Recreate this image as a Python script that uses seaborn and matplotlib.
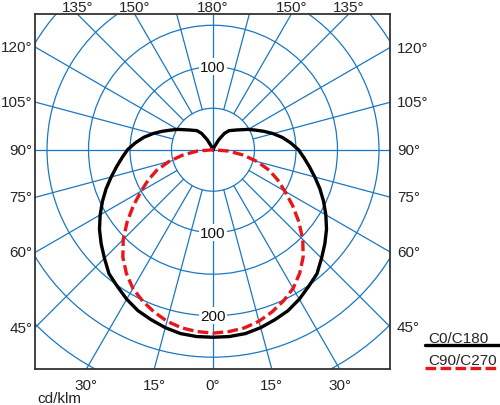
import numpy as np
import pandas as pd
import matplotlib.pyplot as plt
from matplotlib.patches import Circle
from matplotlib.lines import Line2D
import seaborn as sns

sns.set_theme(style="white")
plt.rcParams['font.family'] = ['Liberation Sans', 'DejaVu Sans']

# luminous intensity (cd/klm) against gamma angle from nadir
gamma_c0 = [0, 5, 10, 15, 20, 25, 30, 35, 40, 45, 50, 55, 60, 65, 70, 75, 80, 85, 90,
            95, 100, 105, 110, 115, 120, 125, 130, 135, 140, 145, 150, 155, 160, 170, 180]
cd_c0 = [226, 226, 225, 222, 218, 214, 208, 201, 195, 185, 176, 167, 157, 147, 137, 127, 118, 110, 103,
         94, 85, 75, 65, 56, 49, 42, 37, 33, 30, 24, 14, 4, 0, 0, 0]

gamma_c90 = [0, 5, 10, 15, 20, 25, 30, 35, 40, 45, 50, 55, 60, 65, 70, 75, 80, 85, 90]
cd_c90 = [221, 220, 218, 214, 208, 201, 193, 182, 169, 153, 135, 117, 100, 86, 72, 55, 37, 19, 0]

ring_values = [50, 100, 150, 200, 250, 300]
spoke_angles = list(range(0, 360, 15))
ring_label_values = [100, -100, -200]
ring_label_texts = ['100', '100', '200']
side_angles = [120, 105, 90, 75, 60, 45]
top_angles = [135, 150, 180]
bottom_angles = [30, 15, 0]
series_names = ['C0/C180', 'C90/C270']

grid_blue = '#1a78c2'
red = '#e8151b'
xmin, xmax = -214.5, 213.3
ymin, ymax = -264.2, 163.5
W, H = 500, 406


def to_xy(gammas, values):
    g = np.radians(gammas)
    r = np.asarray(values, dtype=float)
    left_x = -r * np.sin(g)
    left_y = -r * np.cos(g)
    # mirror the half curve onto the other side
    x = np.concatenate([left_x[::-1], -left_x[1:]])
    y = np.concatenate([left_y[::-1], left_y[1:]])
    return pd.DataFrame({'x': x, 'y': y})


df_c0 = to_xy(gamma_c0, cd_c0)
df_c90 = to_xy(gamma_c90, cd_c90)

fig = plt.figure(figsize=(5, 4.06), dpi=100)
ax = fig.add_axes([35 / W, 1 - 370 / H, 355 / W, 355 / H])
ax.set_xlim(xmin, xmax)
ax.set_ylim(ymin, ymax)
ax.set_aspect('equal')
ax.set_xticks([])
ax.set_yticks([])
for s in ax.spines.values():
    s.set_color('#333333')
    s.set_linewidth(1.3)

# polar grid
for rv in ring_values:
    ax.add_patch(Circle((0, 0), rv, fill=False, edgecolor=grid_blue, linewidth=0.9, zorder=1))
for a in spoke_angles:
    rad = np.radians(a)
    r0 = 0 if a % 90 == 0 else 50
    ax.plot([r0 * np.sin(rad), 500 * np.sin(rad)], [-r0 * np.cos(rad), -500 * np.cos(rad)],
            color=grid_blue, linewidth=0.9, zorder=1)

for v, t in zip(ring_label_values, ring_label_texts):
    ax.text(0, v, t, ha='center', va='center', fontsize=11, color='#111111', zorder=2,
            bbox=dict(facecolor='white', edgecolor='none', pad=1.0))

sns.lineplot(data=df_c0, x='x', y='y', sort=False, estimator=None, ax=ax,
             color='black', linewidth=2.4, zorder=3, solid_joinstyle='round')
sns.lineplot(data=df_c90, x='x', y='y', sort=False, estimator=None, ax=ax,
             color=red, linewidth=2.4, linestyle=(0, (3.2, 1.3)), zorder=4)
ax.set_xlabel('')
ax.set_ylabel('')

# angle labels round the frame
fs = 11
for a in side_angles:
    rad = np.radians(a)
    yl = xmin * np.cos(rad) / np.sin(rad)
    yr = -xmax * np.cos(rad) / np.sin(rad)
    ax.annotate(f'{a}°', xy=(xmin, yl), xytext=(-2, 0), textcoords='offset points',
                ha='right', va='center', fontsize=fs, annotation_clip=False)
    ax.annotate(f'{a}°', xy=(xmax, yr), xytext=(5, 0), textcoords='offset points',
                ha='left', va='center', fontsize=fs, annotation_clip=False)
for a in top_angles:
    x = ymax * np.tan(np.radians(a))
    for sx in ([-1, 1] if a != 180 else [1]):
        ax.annotate(f'{a}°', xy=(sx * abs(x), ymax), xytext=(0, 2.3), textcoords='offset points',
                    ha='center', va='baseline', fontsize=fs, annotation_clip=False)
for a in bottom_angles:
    x = ymin * np.tan(np.radians(a))
    for sx in ([-1, 1] if a != 0 else [1]):
        ax.annotate(f'{a}°', xy=(sx * abs(x), ymin), xytext=(0, -14.4), textcoords='offset points',
                    ha='center', va='baseline', fontsize=fs, annotation_clip=False)

fig.text(37 / W, 1 - 403 / H, 'cd/klm', ha='left', va='baseline', fontsize=fs)

# legend
fig.text(428 / W, 1 - 343 / H, series_names[0], ha='left', va='baseline', fontsize=fs)
fig.add_artist(Line2D([425 / W, 1.0], [1 - 346 / H] * 2, color='black', linewidth=2.4))
fig.text(428 / W, 1 - 365 / H, series_names[1], ha='left', va='baseline', fontsize=fs)
fig.add_artist(Line2D([425 / W, 1.0], [1 - 369 / H] * 2, color=red, linewidth=2.4,
                      linestyle=(0, (3.2, 1.3))))

fig.savefig('out.png', dpi=100)
